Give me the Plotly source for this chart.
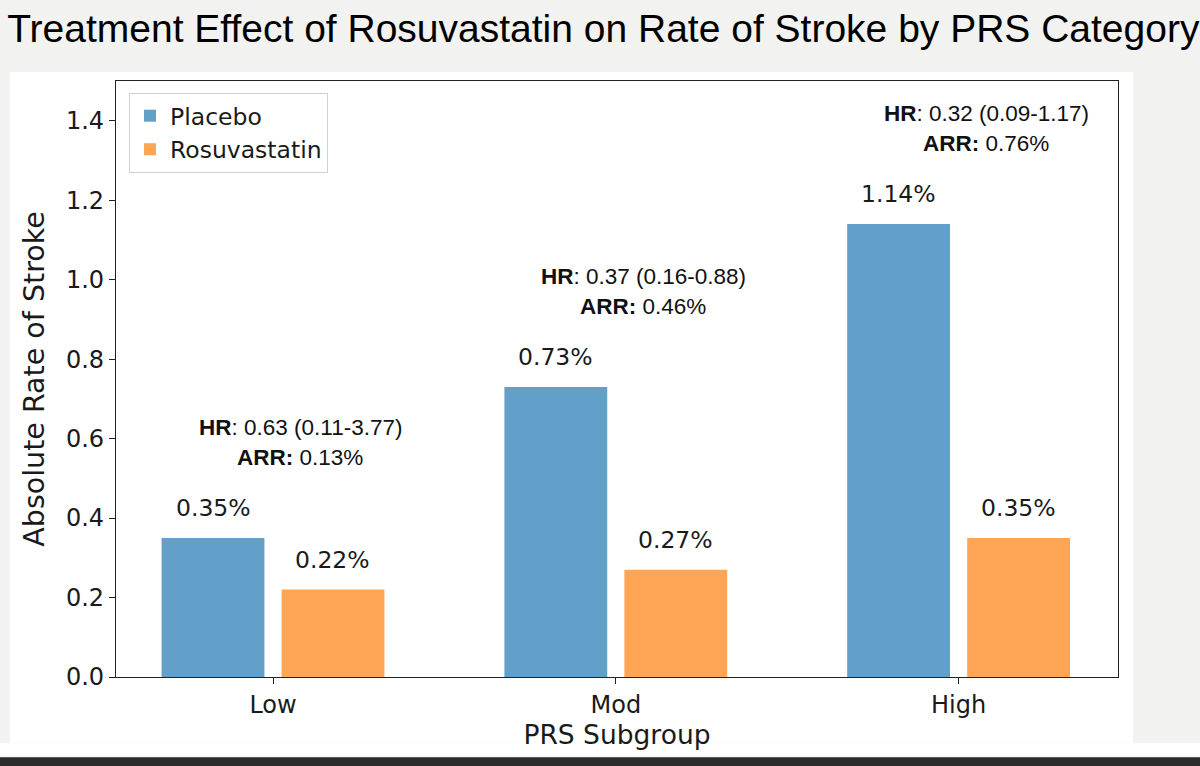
import plotly.graph_objects as go

# values
groups = ["Low", "Mod", "High"]
placebo = [0.35, 0.73, 1.14]
rosuvastatin = [0.22, 0.27, 0.35]
hr_text = ["0.63 (0.11-3.77)", "0.37 (0.16-0.88)", "0.32 (0.09-1.17)"]
arr_text = ["0.13%", "0.46%", "0.76%"]
y_ticks = [0.0, 0.2, 0.4, 0.6, 0.8, 1.0, 1.2, 1.4]

BLUE = "#62a0ca"
ORANGE = "#ffa556"
PAGE = "#f2f2f1"
FONT = "DejaVu Sans"

pos = list(range(len(groups)))

fig = go.Figure()
fig.add_trace(go.Bar(x=pos, y=placebo, name="Placebo", marker_color=BLUE,
                     marker_line_width=0, width=0.3, offset=-0.325))
fig.add_trace(go.Bar(x=pos, y=rosuvastatin, name="Rosuvastatin", marker_color=ORANGE,
                     marker_line_width=0, width=0.3, offset=0.025))

# value labels over each bar
for i in pos:
    for val, dx in ((placebo[i], -0.175), (rosuvastatin[i], 0.175)):
        fig.add_annotation(x=i + dx, y=val, text=f"{val:.2f}%", showarrow=False,
                           yanchor="bottom", yshift=14,
                           font=dict(family=FONT, size=23.5, color="#1a1a1a"))

# HR / ARR notes above each group
for i in pos:
    y_note = placebo[i] + 0.24
    fig.add_annotation(x=i + 0.08, y=y_note, yshift=15, showarrow=False,
                       text=f"<b>HR</b>: {hr_text[i]}",
                       font=dict(family="Liberation Sans", size=22.5, color="#111"))
    fig.add_annotation(x=i + 0.08, y=y_note, yshift=-15, showarrow=False,
                       text=f"<b>ARR:</b> {arr_text[i]}",
                       font=dict(family="Liberation Sans", size=22.5, color="#111"))

# page furniture: white panel, bottom strip
fig.add_shape(type="rect", xref="paper", yref="paper", x0=-0.106, x1=1.015,
              y0=-0.111, y1=1.015, fillcolor="white", line_width=0, layer="below")
fig.add_shape(type="rect", xref="paper", yref="paper", x0=-0.2, x1=1.2,
              y0=-0.133, y1=-0.111, fillcolor="white", line_width=0, layer="below")
fig.add_shape(type="rect", xref="paper", yref="paper", x0=-0.2, x1=1.2,
              y0=-0.17, y1=-0.1345, fillcolor="#2b2b2b", line_width=0, layer="above")

fig.update_layout(
    width=1200, height=766,
    margin=dict(l=116, r=82, t=81, b=89),
    paper_bgcolor=PAGE, plot_bgcolor="white",
    barmode="overlay",
    title=dict(text="Treatment Effect of Rosuvastatin on Rate of Stroke by PRS Category",
               x=0.006, xanchor="left", y=0.963, yanchor="middle",
               font=dict(family="Liberation Sans", size=39, color="black")),
    legend=dict(x=0.013, y=0.98, xanchor="left", yanchor="top",
                bgcolor="white", bordercolor="#d0d0d0", borderwidth=1,
                font=dict(family=FONT, size=23.5, color="#1a1a1a")),
    font=dict(family=FONT, color="#1a1a1a"),
)
fig.update_xaxes(range=[-0.458, 2.465], tickvals=pos, ticktext=groups,
                 showgrid=False, zeroline=False, showline=True, mirror=True,
                 linecolor="#222", linewidth=1.3, ticks="outside", ticklen=6,
                 tickcolor="#222", tickfont=dict(family=FONT, size=24),
                 title=dict(text="PRS Subgroup", font=dict(family=FONT, size=26.5), standoff=4))
fig.update_yaxes(range=[0, 1.5], tickvals=y_ticks, tickformat=".1f",
                 showgrid=False, zeroline=False, showline=True, mirror=True,
                 linecolor="#222", linewidth=1.3, ticks="outside", ticklen=6,
                 tickcolor="#222", tickfont=dict(family=FONT, size=24),
                 title=dict(text="Absolute Rate of Stroke", font=dict(family=FONT, size=28.5), standoff=12))

# drop the browser's default page margin so the figure sits at the top-left corner
fig.write_html("out.html", config={"displayModeBar": False},
               post_script="document.body.style.margin='0';")
